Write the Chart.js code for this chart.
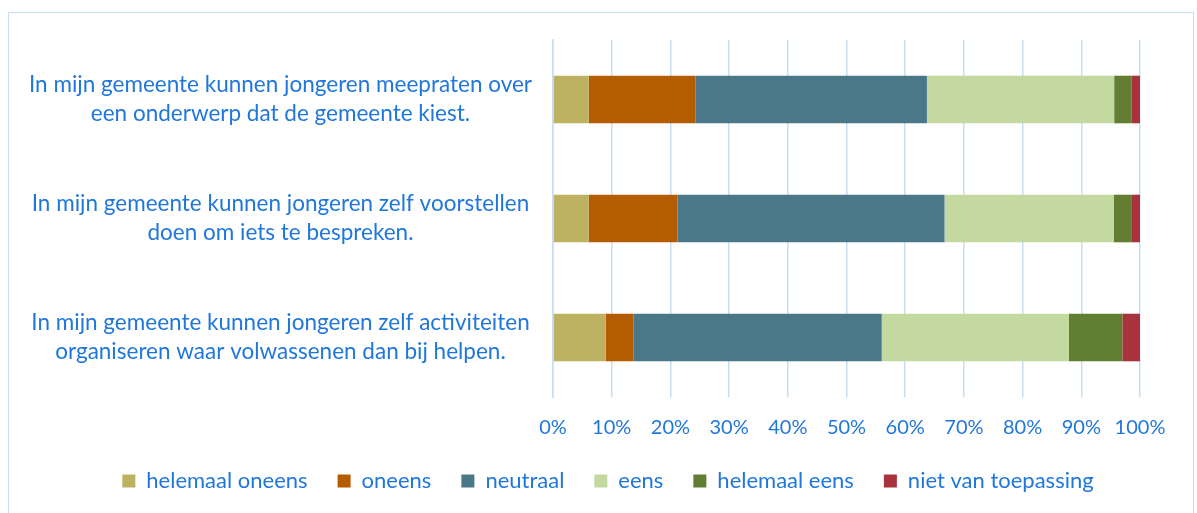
<!DOCTYPE html>
<html>
<head>
<meta charset="utf-8">
<script src="https://cdn.jsdelivr.net/npm/chart.js@4/dist/chart.umd.min.js"></script>
<style>
  html, body { margin: 0; padding: 0; background: #fff; }
  #wrap { position: relative; width: 1197px; height: 513px; overflow: hidden; }
  #frame { position: absolute; left: 8px; top: 12px; width: 1186px; height: 520px;
           border: 1px solid #C9DEF4; box-sizing: border-box; }
  canvas { position: absolute; left: 0; top: 0; }
</style>
</head>
<body>
<div id="wrap">
  <div id="frame"></div>
  <canvas id="chart" width="1197" height="513"></canvas>
</div>
<script>
const categories = [
  ['In mijn gemeente kunnen jongeren meepraten over', 'een onderwerp dat de gemeente kiest.'],
  ['In mijn gemeente kunnen jongeren zelf voorstellen', 'doen om iets te bespreken.'],
  ['In mijn gemeente kunnen jongeren zelf activiteiten', 'organiseren waar volwassenen dan bij helpen.']
];
const seriesNames = ['helemaal oneens', 'oneens', 'neutraal', 'eens', 'helemaal eens', 'niet van toepassing'];
const helemaalOneens = [6.1, 6.1, 9.0];
const oneens = [18.2, 15.1, 4.7];
const neutraal = [39.4, 45.5, 42.3];
const eens = [31.9, 28.8, 31.9];
const helemaalEens = [3.0, 3.0, 9.1];
const nietVanToepassing = [1.4, 1.5, 3.0];
const xTicks = [0, 10, 20, 30, 40, 50, 60, 70, 80, 90, 100];

const colors = ['#BCB262', '#B45D00', '#4A7889', '#C4D9A0', '#627E33', '#A9323F'];
const textColor = '#1F77DC';
const gridColor = '#C6DDF6';
const font = 'Lato, "Open Sans", sans-serif';

const values = [helemaalOneens, oneens, neutraal, eens, helemaalEens, nietVanToepassing];

// legend is centred on the whole frame, not on the plot
const shiftLegend = {
  id: 'shiftLegend',
  afterLayout(chart) { chart.legend.left += 38; chart.legend.right += 38; }
};

new Chart(document.getElementById('chart'), {
  type: 'bar',
  data: {
    labels: categories,
    datasets: seriesNames.map((name, i) => ({
      label: name,
      data: values[i],
      backgroundColor: colors[i],
      borderWidth: 0,
      categoryPercentage: 1,
      barPercentage: 0.4
    }))
  },
  plugins: [shiftLegend],
  options: {
    indexAxis: 'y',
    responsive: false,
    animation: false,
    layout: { padding: { top: 40, right: 57, bottom: 11, left: 0 } },
    plugins: {
      tooltip: { enabled: false },
      legend: {
        position: 'bottom',
        labels: {
          color: textColor,
          font: { family: font, size: 22 },
          boxWidth: 13,
          boxHeight: 13,
          padding: 30
        }
      }
    },
    scales: {
      x: {
        stacked: true,
        min: 0,
        max: 100,
        afterBuildTicks: s => { s.ticks = xTicks.map(v => ({ value: v })); },
        afterFit: s => { s.height = 43; },
        ticks: {
          color: textColor,
          font: { family: font, size: 20, lineHeight: 1.2 },
          padding: 19,
          callback: v => v + '%'
        },
        grid: { color: gridColor, lineWidth: 1.5, drawTicks: false },
        border: { display: false }
      },
      y: {
        stacked: true,
        afterFit: s => { s.width = 553; s.paddingTop = 0; s.paddingBottom = 0; },
        ticks: {
          color: textColor,
          font: { family: font, size: 22.5, lineHeight: 1.3 },
          crossAlign: 'center',
          padding: 21
        },
        grid: { display: false, drawTicks: false },
        border: { display: true, color: gridColor, width: 1.5 }
      }
    }
  }
});
</script>
</body>
</html>
